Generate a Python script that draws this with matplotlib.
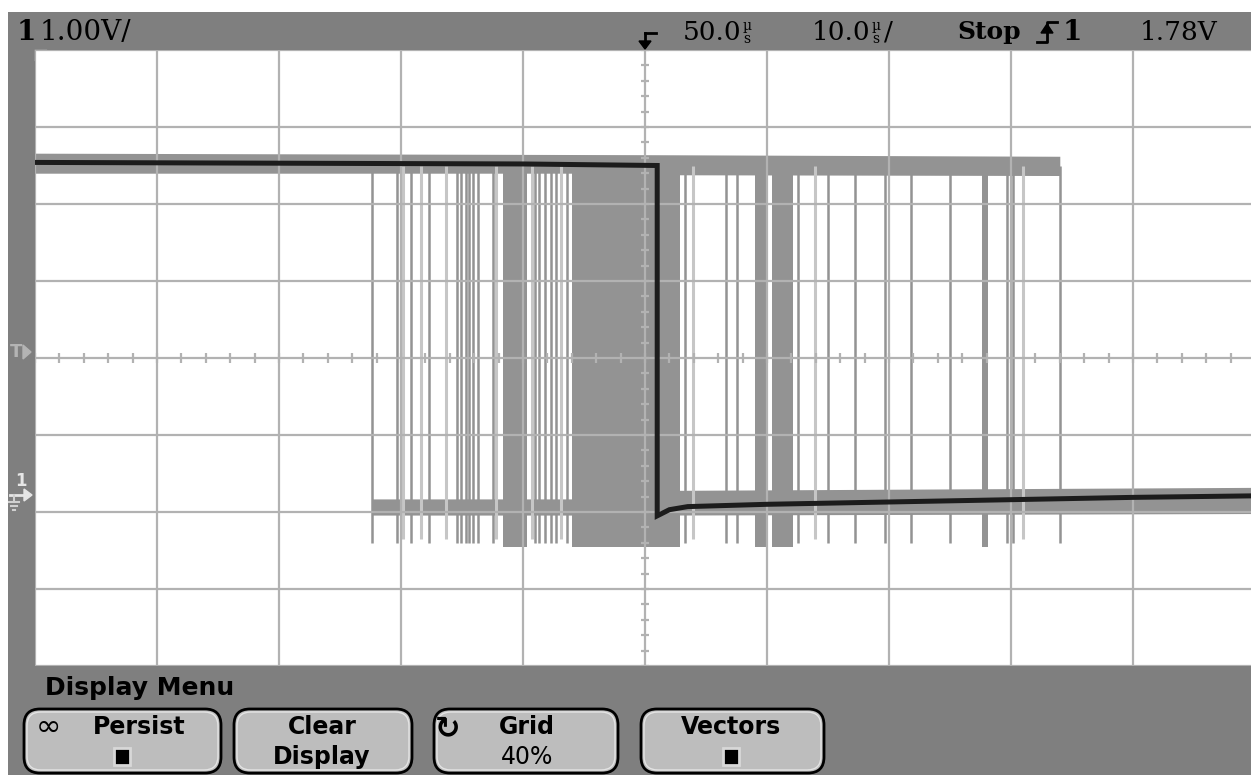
import matplotlib
matplotlib.use("Agg")
import matplotlib.pyplot as plt
from matplotlib.patches import Rectangle, FancyBboxPatch, Polygon
import numpy as np

# ---------------- data (time in µs, voltage in V) ----------------
dark_t = [0.0, 20.0, 40.0, 51.0, 51.0, 52.0, 53.5, 60.0, 70.0, 80.0, 90.0, 100.0]
dark_v = [4.34, 4.33, 4.32, 4.30, -0.25, -0.17, -0.13, -0.10, -0.07, -0.04, -0.01, 0.01]

high_band_t = [0.0, 51.0, 51.0, 84.0]
high_band_top = [4.46, 4.44, 4.44, 4.42]
high_band_bot = [4.20, 4.20, 4.18, 4.17]

low_band_t = [27.6, 51.0, 51.0, 100.0]
low_band_top = [-0.03, -0.03, 0.08, 0.12]
low_band_bot = [-0.24, -0.24, -0.24, -0.22]

glitch_mid_t = [27.6, 29.7, 30.8, 32.3, 34.6, 34.9, 35.3, 35.6, 35.9, 36.3, 37.5,
                41.0, 41.3, 41.8, 42.3, 42.7, 43.6, 53.3, 56.6, 57.5, 62.5, 65.0,
                67.2, 69.7, 71.8, 75.0, 79.7, 80.2, 84.0]
glitch_light_t = [30.2, 31.6, 33.7, 37.8, 40.7, 43.1, 53.9, 63.9, 81.0]
dense_start = [38.4, 44.0, 59.0, 60.4, 77.6]
dense_end = [40.3, 52.9, 60.0, 62.1, 78.1]
glitch_top = 4.30
glitch_bottom = -0.60

x_grid = [0, 10, 20, 30, 40, 50, 60, 70, 80, 90, 100]
y_grid = [-2.2, -1.2, -0.2, 0.8, 1.8, 2.8, 3.8, 4.8, 5.8]

# ---------------- colours ----------------
BAR = "#7f7f7f"
GRID = "#b2b2b2"
TRACE = "#939393"
LIGHT = "#c6c6c6"
DARK = "#1c1c1c"
BTN = "#bdbdbd"

fig = plt.figure(figsize=(12.51, 7.75), dpi=100, facecolor="white")

# background / frame axes in pixel coordinates
bg = fig.add_axes([0, 0, 1, 1])
bg.set_xlim(0, 1251)
bg.set_ylim(775, 0)
bg.set_axis_off()
bg.add_patch(Rectangle((8, 12), 1243, 38, color=BAR, lw=0))
bg.add_patch(Rectangle((8, 50), 27, 616, color=BAR, lw=0))
bg.add_patch(Rectangle((8, 666), 1243, 109, color=BAR, lw=0))

# ---------------- main scope area ----------------
ax = fig.add_axes([35 / 1251, 109 / 775, 1220 / 1251, 616 / 775])
ax.set_facecolor("white")
ax.set_xlim(0, 100)
ax.set_ylim(-2.2, 5.8)
for s in ax.spines.values():
    s.set_visible(False)
ax.set_xticks([])
ax.set_yticks([])

# persistence (gray) traces
ax.fill_between(high_band_t, high_band_bot, high_band_top, color=TRACE, lw=0, zorder=2)
ax.fill_between(low_band_t, low_band_bot, low_band_top, color=TRACE, lw=0, zorder=2)
ax.vlines(glitch_light_t, glitch_bottom + 0.05, glitch_top, color=LIGHT, lw=2.2, zorder=2)
ax.vlines(glitch_mid_t, glitch_bottom, glitch_top, color=TRACE, lw=1.8, zorder=2)
for a, b in zip(dense_start, dense_end):
    ax.fill_between([a, b], [glitch_bottom - 0.05] * 2, [glitch_top + 0.05] * 2,
                    color=TRACE, lw=0, zorder=2)

# grid
ax.vlines(x_grid, -2.2, 5.8, color=GRID, lw=1.6, zorder=3)
ax.hlines(y_grid, 0, 100, color=GRID, lw=1.6, zorder=3)
# centre minor ticks
xt = np.arange(0, 100.01, 2)
ax.vlines(xt, 1.8 - 0.06, 1.8 + 0.06, color=GRID, lw=1.6, zorder=3)
yt = np.arange(-2.2, 5.81, 0.2)
ax.hlines(yt, 50 - 0.33, 50 + 0.33, color=GRID, lw=1.6, zorder=3)

# dark (current) trace
ax.plot(dark_t, dark_v, color=DARK, lw=3.6, zorder=4, solid_joinstyle="miter")

# ---------------- top status bar ----------------
serif = "DejaVu Serif"
bg.text(17, 32, "1", fontsize=20, fontweight="bold", family=serif, va="center", ha="left")
bg.text(40, 32, "1.00V/", fontsize=20, family=serif, va="center", ha="left")
# trigger position marker
bg.plot([645, 656], [33, 33], color="black", lw=2)
bg.plot([645, 645], [33, 46], color="black", lw=2)
bg.add_patch(Polygon([[639, 41], [651, 41], [645, 49]], closed=True, color="black"))

bg.text(683, 32, "50.0", fontsize=19, family=serif, va="center", ha="left")
bg.text(747, 26, "µ", fontsize=10, family=serif, va="center", ha="center")
bg.text(747, 39, "s", fontsize=10, family=serif, va="center", ha="center")
bg.text(812, 32, "10.0", fontsize=19, family=serif, va="center", ha="left")
bg.text(876, 26, "µ", fontsize=10, family=serif, va="center", ha="center")
bg.text(876, 39, "s", fontsize=10, family=serif, va="center", ha="center")
bg.text(884, 32, "/", fontsize=19, family=serif, va="center", ha="left")
bg.text(957, 32, "Stop", fontsize=18, fontweight="bold", family=serif, va="center", ha="left")
# trigger slope symbol
bg.plot([1037, 1047, 1047, 1057], [42, 42, 22, 22], color="black", lw=2)
bg.add_patch(Polygon([[1041, 33], [1053, 33], [1047, 24]], closed=True, color="black"))
bg.text(1063, 32, "1", fontsize=20, fontweight="bold", family=serif, va="center", ha="left")
bg.text(1140, 32, "1.78V", fontsize=19, family=serif, va="center", ha="left")

# left markers
bg.text(10, 352, "T", fontsize=13, color="#b4b4b4", fontweight="bold", va="center", ha="left")
bg.add_patch(Polygon([[23, 345], [23, 359], [31, 352]], closed=True, color="#b4b4b4"))
bg.text(15, 481, "1", fontsize=12, color="#e6e6e6", fontweight="bold", va="center", ha="left")
bg.plot([10, 27], [495, 495], color="#e6e6e6", lw=2)
bg.add_patch(Polygon([[24, 489], [24, 501], [32, 495]], closed=True, color="#e6e6e6"))
bg.plot([14, 14], [495, 502], color="#d0d0d0", lw=1.5)
bg.plot([9, 19], [502, 502], color="#d0d0d0", lw=1.5)
bg.plot([11, 17], [506, 506], color="#d0d0d0", lw=1.5)
bg.plot([13, 15], [510, 510], color="#d0d0d0", lw=1.5)
bg.add_patch(Polygon([[35, 50], [47, 50], [35, 61]], closed=True, color="#9a9a9a"))

# ---------------- bottom menu ----------------
sans = "DejaVu Sans"
bg.text(45, 688, "Display Menu", fontsize=18, fontweight="bold", family=sans,
        va="center", ha="left")

buttons = [(20, 225), (230, 416), (430, 622), (637, 828)]
for x0, x1 in buttons:
    bg.add_patch(FancyBboxPatch((x0 + 4, 709), (x1 - x0) - 8, 64,
                                boxstyle="round,pad=0,rounding_size=16",
                                facecolor=BTN, edgecolor="black", lw=2))
    bg.add_patch(FancyBboxPatch((x0 + 7, 712), (x1 - x0) - 14, 58,
                                boxstyle="round,pad=0,rounding_size=14",
                                facecolor="none", edgecolor="#e4e4e4", lw=1))

fs = 17
bg.text(36, 727, "∞", fontsize=22, family=sans, va="center", ha="left")
bg.text(93, 727, "Persist", fontsize=fs, fontweight="bold", family=sans, va="center", ha="left")
bg.add_patch(Rectangle((114, 748), 16, 17, facecolor="black", edgecolor="#d8d8d8", lw=2))
bg.text(322, 727, "Clear", fontsize=fs, fontweight="bold", family=sans, va="center", ha="center")
bg.text(322, 757, "Display", fontsize=fs, fontweight="bold", family=sans, va="center", ha="center")
bg.text(448, 729, "↻", fontsize=22, fontweight="bold", family=sans, va="center", ha="center")
bg.text(527, 727, "Grid", fontsize=fs, fontweight="bold", family=sans, va="center", ha="center")
bg.text(527, 757, "40%", fontsize=fs, family=sans, va="center", ha="center")
bg.text(731, 727, "Vectors", fontsize=fs, fontweight="bold", family=sans, va="center", ha="center")
bg.add_patch(Rectangle((723, 748), 16, 17, facecolor="black", edgecolor="#d8d8d8", lw=2))

fig.savefig("out.png", dpi=100, facecolor="white")
